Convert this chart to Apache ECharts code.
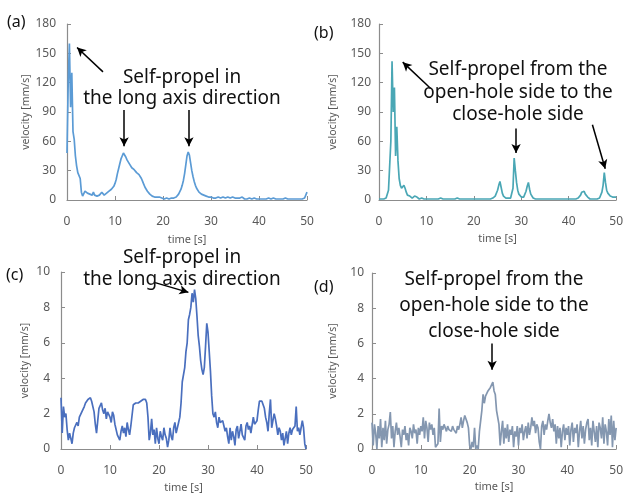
<!DOCTYPE html>
<html>
<head>
<meta charset="utf-8">
<script src="https://cdn.jsdelivr.net/npm/echarts@6/dist/echarts.min.js"></script>
<style>
  html, body { margin: 0; padding: 0; background: #fff; }
  #chart { width: 626px; height: 494px; }
</style>
</head>
<body>
<div id="chart"></div>
<script>
// sampling step of every trace [s]
const dt = 0.25

// (a) velocity [mm/s], one row = 2 s
const velA = [
  48, 120, 160, 95, 130, 70, 62, 45,
  35, 28, 30, 22, 8, 4, 6, 9,
  10, 7, 9, 6, 4, 5, 8, 5,
  3, 4, 2, 5, 7, 8, 6, 5,
  6, 7, 8, 9, 10, 11, 13, 14,
  17, 21, 27, 32, 37, 42, 45, 48,
  46, 44, 41, 39, 37, 35, 33, 32,
  31, 30, 28, 27, 26, 25, 22, 19,
  16, 13, 11, 9, 7, 6, 5, 4,
  4, 3, 3, 3, 2, 3, 2, 2,
  2, 1, 1, 2, 1, 1, 1, 2,
  1, 2, 2, 3, 4, 6, 8, 11,
  15, 20, 27, 36, 45, 49, 46, 38,
  30, 24, 19, 15, 12, 10, 8, 7,
  6, 5, 5, 4, 4, 3, 3, 3,
  3, 2, 2, 3, 2, 2, 3, 2,
  2, 3, 3, 2, 2, 2, 3, 2,
  2, 2, 3, 3, 2, 2, 2, 3,
  2, 2, 3, 2, 1, 2, 1, 1,
  2, 1, 1, 1, 2, 1, 1, 2,
  1, 1, 1, 2, 1, 1, 1, 1,
  2, 1, 1, 1, 2, 1, 1, 1,
  1, 2, 1, 1, 1, 1, 2, 1,
  1, 1, 1, 2, 1, 1, 1, 1,
  1, 2, 1, 1, 1, 2, 2, 3,
  8
]

// (b) velocity [mm/s]
const velB = [
  1, 1, 1, 1, 1, 1, 2, 3,
  10, 35, 60, 142, 90, 115, 45, 75,
  40, 22, 15, 12, 14, 15, 12, 8,
  5, 6, 4, 3, 2, 3, 4, 5,
  3, 2, 1, 1, 2, 1, 1, 2,
  1, 1, 1, 1, 1, 2, 1, 1,
  1, 1, 1, 1, 2, 1, 1, 1,
  1, 1, 1, 2, 1, 1, 1, 1,
  1, 1, 2, 1, 1, 1, 1, 1,
  1, 1, 1, 1, 1, 2, 1, 1,
  1, 1, 1, 1, 1, 1, 1, 2,
  1, 1, 1, 1, 1, 1, 1, 1,
  2, 3, 4, 6, 10, 15, 19, 13,
  7, 4, 3, 2, 2, 2, 1, 2,
  4, 12, 43, 30, 18, 10, 6, 4,
  3, 3, 3, 5, 9, 14, 18, 11,
  6, 4, 2, 2, 1, 1, 1, 1,
  1, 1, 1, 1, 1, 1, 1, 1,
  1, 1, 1, 1, 1, 1, 1, 1,
  1, 1, 1, 1, 1, 1, 1, 1,
  1, 1, 1, 1, 1, 1, 1, 2,
  2, 3, 5, 8, 10, 9, 6, 4,
  3, 2, 1, 1, 1, 1, 1, 1,
  1, 1, 2, 4, 8, 15, 28, 18,
  10, 7, 5, 4, 3, 3, 2, 3,
  3
]

// (c) velocity [mm/s]
const velC = [
  2.9, 0.9, 2.4, 1.8, 2.0, 1.1, 0.5, 0.9,
  0.6, 0.3, 0.9, 1.2, 1.3, 1.5, 1.3, 1.8,
  1.9, 2.1, 2.0, 2.4, 2.6, 2.7, 2.8, 2.9,
  2.9, 2.7, 2.6, 2.1, 1.4, 0.9, 1.6, 2.3,
  2.4, 2.6, 2.2, 2.0, 2.3, 1.7, 2.1, 2.2,
  1.8, 1.5, 2.1, 1.9, 1.4, 1.3, 0.8, 0.9,
  0.5, 1.0, 1.3, 0.9, 1.2, 0.7, 1.5, 1.1,
  0.8, 1.3, 1.2, 2.5, 2.4, 2.6, 2.5, 2.6,
  2.6, 2.7, 2.6, 2.8, 2.7, 2.8, 2.6, 1.8,
  0.5, 0.9, 1.7, 0.8, 1.1, 0.3, 1.2, 0.6,
  0.3, 1.0, 0.7, 0.5, 1.2, 0.8, 0.6, 0.1,
  0.5, 1.2, 0.7, 0.5, 1.2, 1.5, 0.9, 0.8,
  1.5, 1.8, 2.6, 3.8, 3.9, 4.6, 5.5, 6.0,
  7.3, 7.6, 8.0, 8.8, 8.3, 9.0, 8.5, 7.5,
  6.4, 5.8, 5.0, 4.5, 4.2, 4.6, 5.8, 7.1,
  6.6, 5.5, 4.4, 3.0, 2.0, 1.8, 2.1, 1.5,
  1.2, 1.8, 1.5, 1.4, 1.6, 1.3, 1.0, 1.2,
  0.7, 0.3, 1.2, 0.5, 1.0, 0.7, 0.2, 1.1,
  1.3, 0.6, 1.0, 1.4, 0.8, 0.9, 0.5, 1.3,
  1.5, 1.1, 1.3, 0.9, 1.0, 1.8, 1.4, 1.5,
  1.6, 2.2, 2.7, 2.8, 2.7, 2.5, 2.3, 1.8,
  1.5, 1.0, 2.0, 2.8, 1.2, 1.6, 2.0, 1.7,
  1.3, 0.8, 1.2, 1.0, 0.5, 0.9, 0.2, 0.6,
  1.0, 0.3, 0.9, 1.2, 0.8, 1.1, 1.0, 1.3,
  2.4, 1.0, 1.2, 0.8, 1.2, 1.6, 1.2, 0.3,
  0
]

// (d) velocity [mm/s]
const velD = [
  1.5, 0.2, 1.4, 0.9, 0.0, 1.3, 0.6, 1.7,
  0.1, 1.2, 0.5, 1.6, 0.3, 1.1, 1.4, 2.1,
  0.6, 1.3, 0.1, 1.0, 1.5, 0.8, 1.2, 0.7,
  0.1, 1.1, 0.8, 1.3, 0.5, 0.9, 0.2, 1.2,
  1.0, 0.6, 1.4, 0.9, 1.1, 0.3, 1.2, 0.8,
  1.3, 1.0, 1.8, 0.6, 1.6, 1.2, 0.4, 1.5,
  1.1, 1.4, 0.8, 1.2, 0.1, 0.0, 0.3, 2.3,
  0.4, 1.3, 1.1, 1.4, 1.2, 1.0, 1.3, 1.1,
  1.2, 1.0, 1.3, 1.1, 1.2, 0.9, 1.3, 1.1,
  1.4, 1.8, 1.2, 1.6, 1.9, 2.0, 1.5, 1.2,
  0.2, 0.0, 0.4, 0.1, 1.2, 0.0, 0.2, 0.0,
  1.0, 1.6, 2.2, 3.1, 2.6, 3.0, 2.9, 3.3,
  3.2, 3.5, 3.4, 3.8, 3.3, 3.1, 2.2, 1.8,
  1.4, 0.2, 1.0, 1.6, 0.3, 1.2, 0.6, 1.4,
  0.4, 1.1, 0.8, 1.3, 0.1, 1.0, 0.7, 1.3,
  0.2, 1.2, 0.9, 1.4, 0.5, 1.0, 1.3, 0.6,
  1.5, 0.8, 1.2, 1.8, 1.3, 1.6, 0.9, 1.4,
  1.2, 0.4, 0.0, 1.3, 1.6, 0.8, 1.4, 1.1,
  1.6, 2.0, 1.5, 1.2, 1.7, 1.0, 1.4, 0.3,
  1.3, 0.6, 1.2, 0.1, 1.0, 1.4, 0.5, 1.2,
  0.8, 1.3, 0.2, 1.1, 1.5, 0.4, 1.2, 0.9,
  1.4, 0.1, 1.0, 1.6, 0.6, 1.3, 0.3, 1.1,
  1.5, 1.7, 0.5, 1.2, 0.2, 1.6, 1.0, 0.4,
  1.3, 0.1, 1.5, 1.2, 0.6, 1.8, 0.3, 1.4,
  1.0, 0.2, 1.7, 0.8, 1.9, 0.1, 1.6, 0.5,
  1.2
]

// arrows as [fromTime, fromVel, toTime, toVel]
const arrowsA = [[7.5, 131, 2.1, 156], [11.9, 92, 11.9, 55], [25.4, 92, 25.4, 55]]
const arrowsB = [[10.9, 114, 5.0, 141], [28.9, 73, 28.9, 48], [45.0, 77, 47.7, 32]]
const arrowsC = [[19.2, 9.4, 26.0, 8.85]]
const arrowsD = [[24.6, 6.0, 24.6, 4.5]]

const panels = [
  { tag: '(a)', vel: velA, color: '#5b9bd5', yMax: 180, yStep: 30, arrows: arrowsA,
    grid: { left: 67, top: 24, width: 240, height: 176 }, yGap: 35, xGap: 34 },
  { tag: '(b)', vel: velB, color: '#4aa7b5', yMax: 180, yStep: 30, arrows: arrowsB,
    grid: { left: 379, top: 24, width: 240, height: 176 }, yGap: 40, xGap: 33 },
  { tag: '(c)', vel: velC, color: '#4a6fbe', yMax: 10, yStep: 2, arrows: arrowsC,
    grid: { left: 61, top: 272, width: 245, height: 177 }, yGap: 30, xGap: 33 },
  { tag: '(d)', vel: velD, color: '#8497b0', yMax: 10, yStep: 2, arrows: arrowsD,
    grid: { left: 372, top: 273, width: 247, height: 176 }, yGap: 33, xGap: 32 }
]

const font = '"Noto Sans", "Open Sans", sans-serif'
const axisGray = '#8c8c8c'
const labelGray = '#595959'

const chart = echarts.init(document.getElementById('chart'))

const grids = [], xAxes = [], yAxes = [], series = []
panels.forEach((p, i) => {
  grids.push(p.grid)
  xAxes.push({
    type: 'value', gridIndex: i, min: 0, max: 50, interval: 10,
    name: 'time [s]', nameLocation: 'middle', nameGap: p.xGap,
    nameTextStyle: { fontFamily: font, fontSize: 11, color: labelGray },
    axisLine: { show: true, onZero: false, lineStyle: { color: axisGray, width: 1.2 } },
    axisTick: { show: true, inside: true, length: 4, lineStyle: { color: axisGray } },
    axisLabel: { fontFamily: font, fontSize: 12, color: labelGray, margin: 16 },
    splitLine: { show: false }
  })
  yAxes.push({
    type: 'value', gridIndex: i, min: 0, max: p.yMax, interval: p.yStep,
    name: 'velocity [mm/s]', nameLocation: 'middle', nameGap: p.yGap,
    nameTextStyle: { fontFamily: font, fontSize: 10.5, color: labelGray },
    axisLine: { show: true, lineStyle: { color: axisGray, width: 1.2 } },
    axisTick: { show: true, inside: true, length: 4, lineStyle: { color: axisGray } },
    axisLabel: { fontFamily: font, fontSize: 12, color: labelGray, margin: i % 2 === 0 ? 11 : 8 },
    splitLine: { show: false }
  })
  series.push({
    type: 'line', xAxisIndex: i, yAxisIndex: i,
    data: p.vel.map((v, k) => [k * dt, v]),
    showSymbol: false, color: p.color,
    lineStyle: { width: 1.7, color: p.color },
    markLine: {
      silent: true, symbol: ['none', 'arrow'], symbolSize: [7, 9],
      label: { show: false },
      lineStyle: { color: '#000', width: 1.5, type: 'solid' },
      data: p.arrows.map(a => [{ coord: [a[0], a[1]] }, { coord: [a[2], a[3]] }])
    }
  })
})

function note(lines, cx, top, lh) {
  return lines.map((s, k) => ({
    type: 'text', z: 10,
    x: cx, y: top + k * lh,
    style: { text: s, fontFamily: font, fontSize: 19, fill: '#111', align: 'center', verticalAlign: 'middle' }
  }))
}
function tag(s, x, y) {
  return { type: 'text', x: x, y: y, z: 10,
    style: { text: s, fontFamily: font, fontSize: 16, fill: '#111', verticalAlign: 'middle' } }
}

const graphic = [].concat(
  note(['Self-propel in', 'the long axis direction'], 182, 78, 21),
  note(['Self-propel from the', 'open-hole side to the', 'close-hole side'], 518, 70, 22.5),
  note(['Self-propel in', 'the long axis direction'], 182, 258, 22),
  note(['Self-propel from the', 'open-hole side to the', 'close-hole side'], 494, 280, 26),
  [tag('(a)', 7, 22), tag('(b)', 314, 33), tag('(c)', 6, 275), tag('(d)', 314, 287)]
)

chart.setOption({
  animation: false,
  backgroundColor: '#fff',
  grid: grids,
  xAxis: xAxes,
  yAxis: yAxes,
  series: series,
  graphic: graphic
})
</script>
</body>
</html>
